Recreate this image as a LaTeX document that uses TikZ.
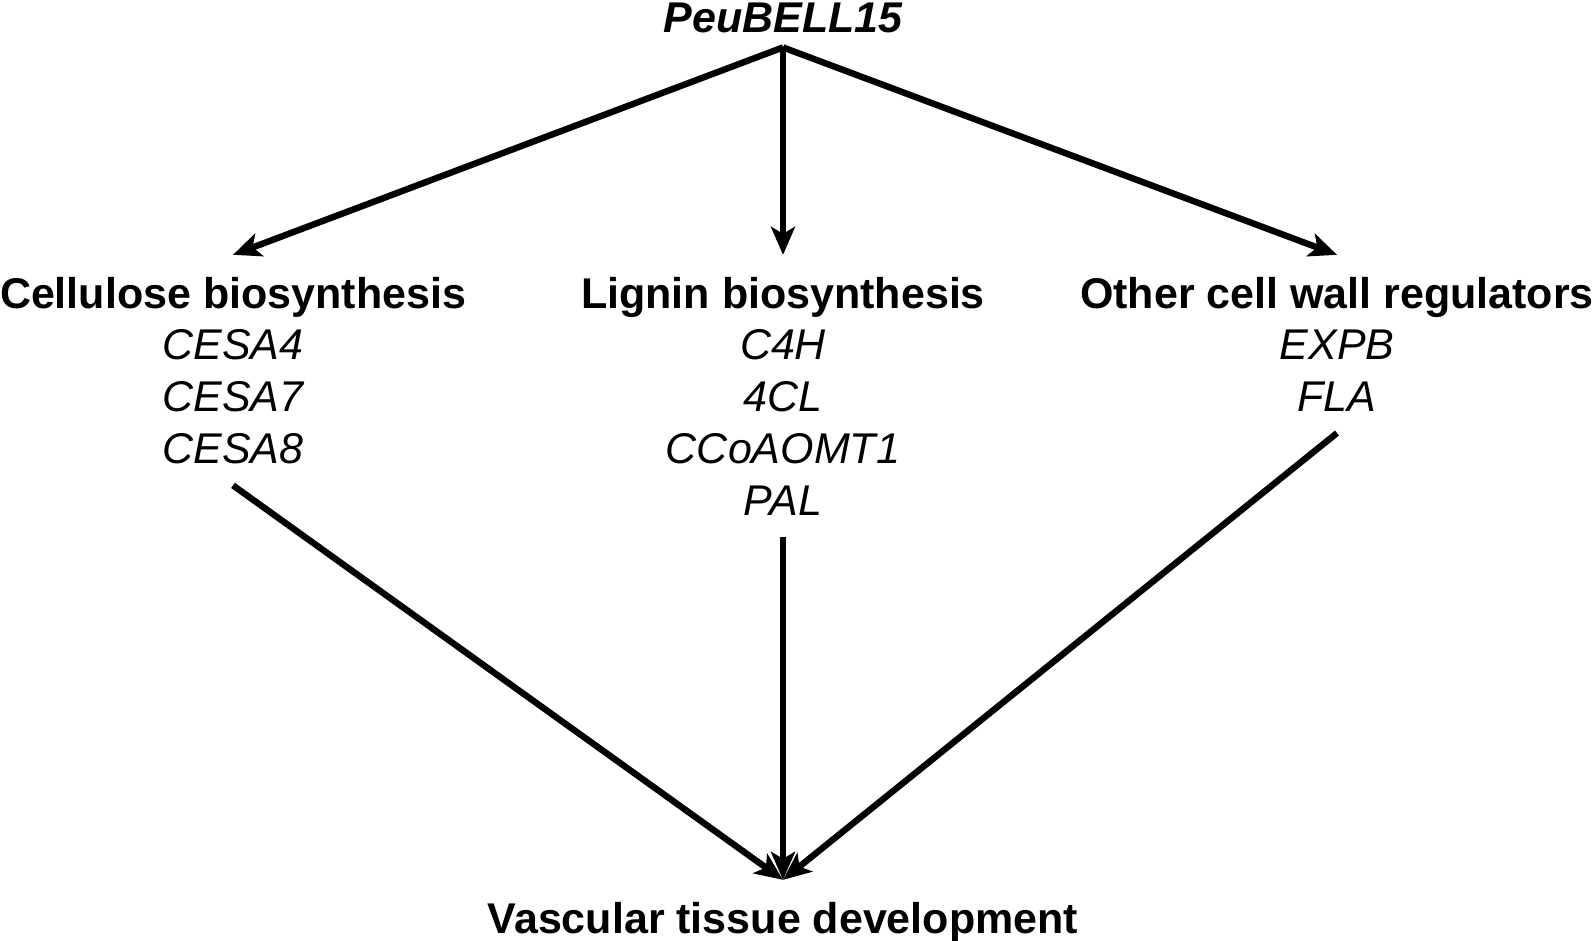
\documentclass[tikz,border=0pt]{standalone}
\usepackage{fontspec}
\setmainfont{Liberation Sans}
\usetikzlibrary{arrows.meta}
\tikzset{x=0.5pt, y=-0.5pt, % one unit is one pixel, y runs downwards
every node/.style={ % Sets the properties for each label
inner sep=0pt,
font=\fontsize{21.5}{26}\selectfont},
rootgene/.style={font=\fontsize{21.5}{26}\selectfont\bfseries\itshape, outer sep=7pt},
process/.style={font=\fontsize{21.5}{26}\selectfont\bfseries, outer sep=11pt},
gene/.style={font=\fontsize{21.5}{26}\selectfont\itshape, outer sep=11pt},
link/.style={ % Sets the properties for each arrow
draw,
line width=3.2pt,
-{Stealth[length=14pt,width=12pt,inset=3.5pt]}}}

\begin{document}
\begin{tikzpicture}
\useasboundingbox (0,0) rectangle (1594,941);
\node[rootgene, anchor=base] (bell) at (783,33) {PeuBELL15};
\node[process, anchor=base] (cell) at (233,308) {Cellulose biosynthesis};
\node[process, anchor=base] (lign) at (783,308) {Lignin biosynthesis};
\node[process, anchor=base] (other) at (1337,308) {Other cell wall regulators};
% genes under each process
\node[gene, anchor=base] (cesa4) at (233,359) {CESA4};
\node[gene, anchor=base] (cesa7) at (233,411) {CESA7};
\node[gene, anchor=base] (cesa8) at (233,463) {CESA8};
\node[gene, anchor=base] (c4h) at (783,359) {C4H};
\node[gene, anchor=base] (4cl) at (783,411) {4CL};
\node[gene, anchor=base] (ccoaomt) at (783,463) {CCoAOMT1};
\node[gene, anchor=base] (pal) at (783,515) {PAL};
\node[gene, anchor=base] (expb) at (1337,359) {EXPB};
\node[gene, anchor=base] (fla) at (1337,411) {FLA};
\node[process, anchor=base] (vasc) at (783,933) {Vascular tissue development};
\draw[link] (bell.south) -- (cell.north);
\draw[link] (bell.south) -- (lign.north);
\draw[link] (bell.south) -- (other.north);
\draw[link] (cesa8.south) -- (vasc.north);
\draw[link] (pal.south) -- (vasc.north);
\draw[link] (fla.south) -- (vasc.north);
\end{tikzpicture}
\end{document}
